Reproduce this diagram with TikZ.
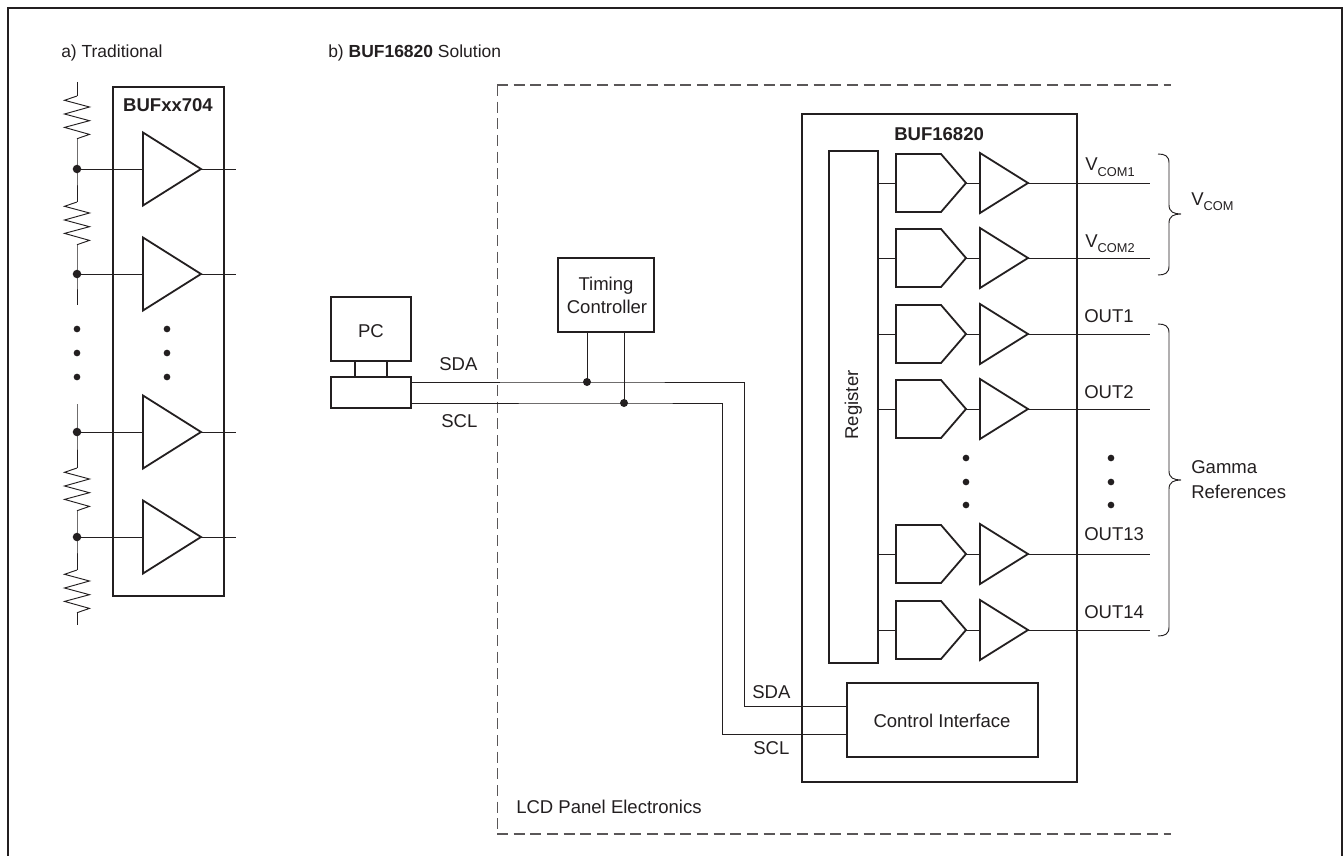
\documentclass[tikz,border=0pt]{standalone}
\usepackage{fontspec}
\setmainfont{Liberation Sans}
\definecolor{ink}{HTML}{231F20}
\newcommand{\lbl}{\fontsize{13.9}{16.5}\selectfont}
\newcommand{\hdl}{\fontsize{13.1}{15.8}\selectfont}
\newcommand{\subl}[1]{\raisebox{-4.2pt}{\fontsize{9.6}{11}\selectfont #1}}
\newcommand{\zigzag}[2]{%
  \draw[wirethin] (77,#1) -- ++(-12.5,4.3) -- ++(25,6.7) -- ++(-25,7) -- ++(25,6.7) -- ++(-25,6.7) -- ++(25,7) -- ++(-12.5,4.3);
  \coordinate (#2top) at (77,#1);
  \coordinate (#2bot) at (77,#1+42);
}
\newcommand{\curlybrace}[3]{%
  \draw[wirethin] (1158,#1) .. controls (1165,#1) and (1169,#1+2) .. (1169,#1+9)
    -- (1169,#2-9) .. controls (1169,#2-2) and (1174,#2) .. (1181,#2)
    .. controls (1174,#2) and (1169,#2+2) .. (1169,#2+9)
    -- (1169,#3-9) .. controls (1169,#3-2) and (1165,#3) .. (1158,#3);
}
\tikzset{
  x=0.75pt,y=-0.75pt,
  wire/.style={draw=ink,line width=0.75pt},
  wirethin/.style={draw=ink,line width=0.7pt,line join=miter},
  boxthick/.style={draw=ink,line width=1.5pt,line join=miter},
  boxmid/.style={draw=ink,line width=1.25pt,line join=miter},
  symbolline/.style={draw=ink,line width=1.35pt,line join=miter},
  dashline/.style={draw=ink!75,line width=0.8pt,dash pattern=on 8.2pt off 4.3pt},
  txt/.style={text=ink,inner sep=0pt,anchor=base west,font=\lbl},
  txtc/.style={text=ink,inner sep=0pt,anchor=base,font=\lbl},
  junction/.style={fill=ink,draw=none},
}
\begin{document}
\begin{tikzpicture}
\useasboundingbox (0,0) rectangle (1343,856);
\fill[white] (0,0) rectangle (1343,856);
% frame
\draw[draw=ink,line width=1.6pt,line join=miter] (8,856) -- (8,8) -- (1342,8) -- (1342,856);
% headings
\node[txt,font=\hdl] (ha) at (61,58) {a) Traditional};
\node[txt,font=\hdl] (hb) at (328,58) {b) \textbf{BUF16820} Solution};
% ---- Traditional ----
\draw[boxmid,line width=1pt] (113,87) rectangle (224,596);
\node[txtc] (bufa) at (168,112) {\textbf{BUFxx704}};
\zigzag{96}{ra}
\zigzag{202}{rb}
\zigzag{468}{rc}
\zigzag{570}{rd}
\coordinate (ltop) at (77,82);
\coordinate (lupend) at (77,305);
\coordinate (llowstart) at (77,404);
\coordinate (lbot) at (77,625);
\foreach \n/\y in {1/169,2/274,3/432,4/537}{
  \coordinate (ln\n) at (77,\y);
  \coordinate (tin\n) at (143,\y);
  \coordinate (tout\n) at (201,\y);
  \coordinate (oend\n) at (236,\y);
  \draw[wire] (ln\n) -- (tin\n);
  \draw[wire] (tout\n) -- (oend\n);
  \fill[junction] (ln\n) circle[radius=3.2pt];
  \draw[symbolline,fill=white] (143,\y-36.5) -- (tout\n) -- (143,\y+36.5) -- cycle;
}
\draw[wirethin] (ltop) -- (ratop);
\draw[wirethin] (rabot) -- (ln1) -- (rbtop);
\draw[wirethin] (rbbot) -- (ln2) -- (lupend);
\draw[wirethin] (llowstart) -- (ln3) -- (rctop);
\draw[wirethin] (rcbot) -- (ln4) -- (rdtop);
\draw[wirethin] (rdbot) -- (lbot);
\foreach \y in {329,353,377}{
  \fill[junction] (77,\y) circle[radius=2.5pt];
  \fill[junction] (167,\y) circle[radius=2.5pt];
}
% ---- dashed region ----
\draw[dashline] (497,85) -- (1171,85);
\draw[dashline] (497,834) -- (1171,834);
\draw[dashline,line width=0.65pt] (497,85) -- (497,834);
\node[txt] (lcd) at (516,813) {LCD Panel Electronics};
% ---- PC ----
\node[boxthick,minimum width=60pt,minimum height=48pt,inner sep=0pt] (pc) at (371,329) {};
\node[txtc] at (371,337) {PC};
\node[boxthick,minimum width=60pt,minimum height=23.25pt,inner sep=0pt] (pcb) at (371,392.5) {};
\draw[boxmid] (355,361) -- (355,377);
\draw[boxmid] (387,361) -- (387,377);
% ---- Timing controller ----
\node[boxthick,minimum width=72pt,minimum height=55.5pt,inner sep=0pt] (tc) at (606,295) {};
\node[txtc] at (606,290) {Timing};
\node[txtc] at (607,313) {Controller};
% ---- BUF16820 ----
\draw[boxthick] (802,114) rectangle (1077,782);
\node[txt] (bufb) at (894,141) {\textbf{BUF16820}};
\node[boxthick,minimum width=36.75pt,minimum height=384pt,inner sep=0pt] (reg) at (853.5,407) {};
\node[text=ink,inner sep=0pt,anchor=base,rotate=90,font=\lbl] at (858,405) {Register};
\node[boxthick,minimum width=143.25pt,minimum height=55.5pt,inner sep=0pt] (ctl) at (942.5,720) {};
\node[txtc] at (942,727) {Control Interface};
\foreach \n/\y in {1/183,2/258,3/334,4/409,5/554,6/630}{
  \coordinate (rr\n) at (878,\y);
  \coordinate (pin\n) at (896,\y);
  \coordinate (ptip\n) at (966,\y);
  \coordinate (ain\n) at (980,\y);
  \coordinate (atip\n) at (1028,\y);
  \coordinate (oo\n) at (1150,\y);
  \draw[wire] (rr\n) -- (pin\n);
  \draw[wire] (ptip\n) -- (ain\n);
  \draw[wire] (atip\n) -- (oo\n);
  \draw[symbolline] (896,\y-29) -- (941,\y-29) -- (ptip\n) -- (941,\y+29) -- (896,\y+29) -- cycle;
  \draw[symbolline] (980,\y-30) -- (atip\n) -- (980,\y+30) -- cycle;
}
\foreach \y in {458,482,505}{
  \fill[junction] (966,\y) circle[radius=2.5pt];
  \fill[junction] (1111,\y) circle[radius=2.5pt];
}
% output labels
\node[txt] (v1) at (1085,171) {V\subl{COM1}};
\node[txt] (v2) at (1085,247) {V\subl{COM2}};
\node[txt] (o1) at (1084,322) {OUT1};
\node[txt] (o2) at (1084,398) {OUT2};
\node[txt] (o13) at (1084,540) {OUT13};
\node[txt] (o14) at (1084,618) {OUT14};
\curlybrace{154}{214}{275}
\curlybrace{324}{480}{636}
\node[txt] (vc) at (1191,205) {V\subl{COM}};
\node[txt] (gam) at (1191,473) {Gamma};
\node[txt] (refs) at (1191,498) {References};
% ---- bus ----
\coordinate (sdaS) at (411,382);
\coordinate (sclS) at (411,403);
\coordinate (sdaJ) at (587,382);
\coordinate (sclJ) at (624,403);
\coordinate (sdaC) at (744,382);
\coordinate (sclC) at (722,403);
\coordinate (sdaD) at (744,706);
\coordinate (sclD) at (722,734);
\coordinate (sdaE) at (847,706);
\coordinate (sclE) at (847,734);
\coordinate (tcA) at (587,332);
\coordinate (tcB) at (624,332);
\draw[wire] (sdaS) -- (sdaJ) -- (sdaC) -- (sdaD) -- (sdaE);
\draw[wire] (sclS) -- (sclJ) -- (sclC) -- (sclD) -- (sclE);
\draw[wire] (tcA) -- (sdaJ);
\draw[wire] (tcB) -- (sclJ);
\fill[junction] (sdaJ) circle[radius=3pt];
\fill[junction] (sclJ) circle[radius=3pt];
\node[txt] (l1) at (439,370) {SDA};
\node[txt] (l2) at (441,427) {SCL};
\node[txt] (l3) at (752,698) {SDA};
\node[txt] (l4) at (753,754) {SCL};
\end{tikzpicture}
\end{document}
